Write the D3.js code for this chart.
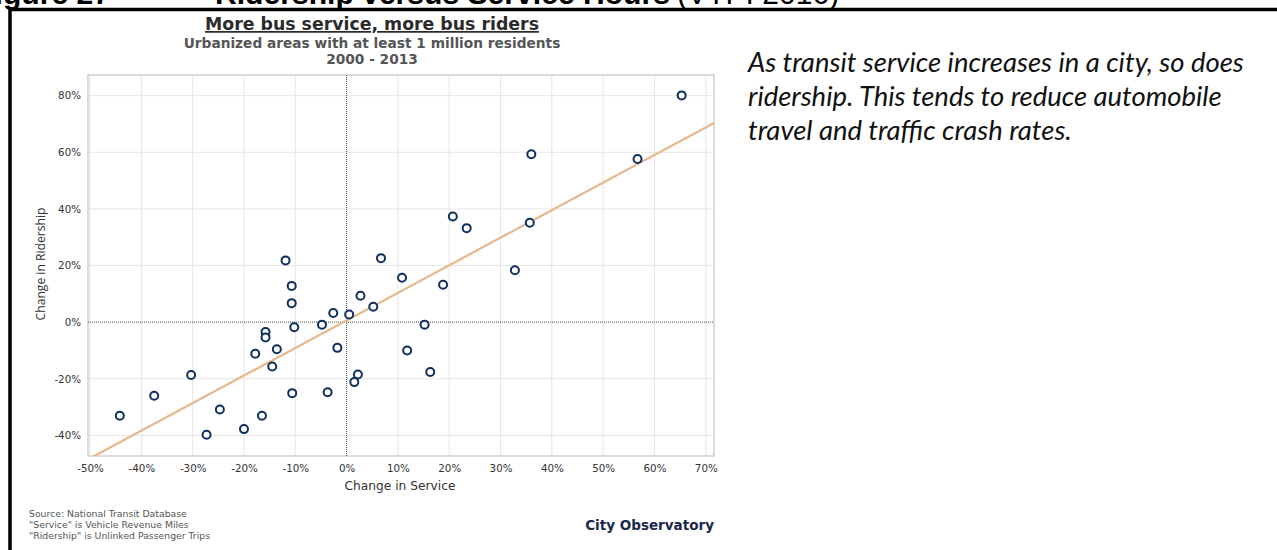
<!DOCTYPE html>
<html>
<head>
<meta charset="utf-8">
<script src="https://cdn.jsdelivr.net/npm/d3@7"></script>
<style>
  html, body { margin: 0; padding: 0; background: #fff; }
  svg { display: block; }
</style>
</head>
<body>
<svg id="chart" width="1277" height="550"></svg>
<script>
// ---------- data ----------
const serviceChange = [
  -44.2, -37.5, -30.3, -27.3, -24.7, -20.0, -16.5, -17.8, -15.8, -15.8,
  -13.6, -14.5, -10.6, -10.2, -4.8, -2.6, -1.8, -3.7, 0.5, 2.2,
  1.5, 5.2, -10.7, -11.9, -10.7, 6.7, 2.7, 10.8, 18.8, 15.2,
  11.8, 16.3, 65.3, 56.7, 36.0, 35.7, 20.7, 23.4, 32.8
];
const ridershipChange = [
  -33.1, -26.0, -18.7, -39.8, -30.9, -37.8, -33.1, -11.2, -3.5, -5.4,
  -9.6, -15.7, -25.1, -1.8, -0.9, 3.2, -9.1, -24.8, 2.7, -18.5,
  -21.2, 5.4, 6.7, 21.8, 12.8, 22.6, 9.3, 15.7, 13.2, -0.9,
  -10.0, -17.6, 80.1, 57.6, 59.3, 35.1, 37.3, 33.2, 18.3
];
const xTicks = [-50, -40, -30, -20, -10, 0, 10, 20, 30, 40, 50, 60, 70];
const yTicks = [-40, -20, 0, 20, 40, 60, 80];
const xDomain = [-50.4, 71.6];
const yDomain = [-47.3, 87.3];
const trendSlope = 0.974;
const trendIntercept = 0.6;

const titleText = "More bus service, more bus riders";
const subtitleLines = ["Urbanized areas with at least 1 million residents", "2000 - 2013"];
const xAxisTitle = "Change in Service";
const yAxisTitle = "Change in Ridership";
const sourceLines = [
  "Source: National Transit Database",
  "\"Service\" is Vehicle Revenue Miles",
  "\"Ridership\" is Unlinked Passenger Trips"
];
const brandText = "City Observatory";
const noteLines = [
  "As transit service increases in a city, so does",
  "ridership. This tends to reduce automobile",
  "travel and traffic crash rates."
];
const headingFigure = "Figure 27";
const headingTitle = "Ridership versus Service Hours";
const headingRef = "(VTPI 2016)";

// ---------- layout ----------
const svg = d3.select("#chart");
const plot = { left: 88, right: 714, top: 75, bottom: 456 };
const x = d3.scaleLinear().domain(xDomain).range([plot.left, plot.right]);
const y = d3.scaleLinear().domain(yDomain).range([plot.bottom, plot.top]);
const pct = d => String(d) + "%";

function fitWidth(sel, target) {
  const w = sel.node().getComputedTextLength();
  const fs = parseFloat(sel.attr("font-size"));
  sel.attr("font-size", (fs * target / w).toFixed(2));
}

// heading (cut off at top, as in the source document crop)
const hFont = "'Liberation Sans', Arial, sans-serif";
const h2 = svg.append("text")
  .attr("x", 215).attr("y", 4)
  .attr("font-family", hFont).attr("font-weight", "bold")
  .attr("font-size", 26).attr("fill", "#000").text(headingTitle);
fitWidth(h2, 455);
svg.append("text")
  .attr("x", 110).attr("y", 4).attr("text-anchor", "end")
  .attr("font-family", hFont).attr("font-weight", "bold")
  .attr("font-size", h2.attr("font-size")).attr("fill", "#000").text(headingFigure);
svg.append("text")
  .attr("x", 677).attr("y", 4)
  .attr("font-family", hFont).attr("font-weight", "normal")
  .attr("font-size", h2.attr("font-size")).attr("fill", "#000").text(headingRef);

// frame
svg.append("path")
  .attr("d", "M10,550 V9.5 H1277")
  .attr("fill", "none").attr("stroke", "#000").attr("stroke-width", 3.5);

// titles
const cx = 372;
const t = svg.append("text")
  .attr("x", cx).attr("y", 30).attr("text-anchor", "middle")
  .attr("font-family", "'DejaVu Sans', Verdana, sans-serif")
  .attr("font-weight", "bold").attr("font-size", 15)
  .attr("fill", "#2b2b2b")
  .attr("text-decoration", "underline")
  .text(titleText);
fitWidth(t, 334);

const st = svg.append("text")
  .attr("x", cx).attr("y", 48).attr("text-anchor", "middle")
  .attr("font-family", "'DejaVu Sans', Verdana, sans-serif")
  .attr("font-weight", "bold").attr("font-size", 11)
  .attr("fill", "#555")
  .text(subtitleLines[0]);
fitWidth(st, 377);
svg.append("text")
  .attr("x", cx).attr("y", 64).attr("text-anchor", "middle")
  .attr("font-family", "'DejaVu Sans', Verdana, sans-serif")
  .attr("font-weight", "bold").attr("font-size", st.attr("font-size"))
  .attr("fill", "#555")
  .text(subtitleLines[1]);

// gridlines
const g = svg.append("g");
g.selectAll(".vg").data(xTicks.filter(d => d !== 0)).join("line")
  .attr("x1", d => x(d)).attr("x2", d => x(d))
  .attr("y1", plot.top).attr("y2", plot.bottom)
  .attr("stroke", "#e6e6e6").attr("stroke-width", 1);
g.selectAll(".hg").data(yTicks.filter(d => d !== 0)).join("line")
  .attr("x1", plot.left).attr("x2", plot.right)
  .attr("y1", d => y(d)).attr("y2", d => y(d))
  .attr("stroke", "#e6e6e6").attr("stroke-width", 1);

// plot border
svg.append("rect")
  .attr("x", plot.left).attr("y", plot.top)
  .attr("width", plot.right - plot.left).attr("height", plot.bottom - plot.top)
  .attr("fill", "none").attr("stroke", "#cfcfcf").attr("stroke-width", 1.5);

// zero lines
svg.append("line")
  .attr("x1", x(0)).attr("x2", x(0)).attr("y1", plot.top).attr("y2", plot.bottom)
  .attr("stroke", "#444").attr("stroke-width", 1).attr("stroke-dasharray", "1,1");
svg.append("line")
  .attr("x1", plot.left).attr("x2", plot.right).attr("y1", y(0)).attr("y2", y(0))
  .attr("stroke", "#444").attr("stroke-width", 1).attr("stroke-dasharray", "1,1");

// axes
const xAxis = d3.axisBottom(x).tickValues(xTicks).tickFormat(pct).tickSize(0).tickPadding(9);
const yAxis = d3.axisLeft(y).tickValues(yTicks).tickFormat(pct).tickSize(0).tickPadding(7);
const xa = svg.append("g").attr("transform", `translate(0,${plot.bottom})`).call(xAxis);
const ya = svg.append("g").attr("transform", `translate(${plot.left},0)`).call(yAxis);
[xa, ya].forEach(a => {
  a.select(".domain").remove();
  a.selectAll("text").attr("font-family", "'DejaVu Sans', Verdana, sans-serif")
    .attr("font-size", 10.3).attr("fill", "#333");
});

// trend line (clipped)
svg.append("clipPath").attr("id", "clip").append("rect")
  .attr("x", plot.left).attr("y", plot.top)
  .attr("width", plot.right - plot.left).attr("height", plot.bottom - plot.top);
const tx = [xDomain[0] - 5, xDomain[1] + 5];
svg.append("line")
  .attr("clip-path", "url(#clip)")
  .attr("x1", x(tx[0])).attr("y1", y(trendSlope * tx[0] + trendIntercept))
  .attr("x2", x(tx[1])).attr("y2", y(trendSlope * tx[1] + trendIntercept))
  .attr("stroke", "#e8b78a").attr("stroke-width", 2.2);

// points
const pts = serviceChange.map((v, i) => ({ sx: v, ry: ridershipChange[i] }));
svg.append("g").selectAll("circle").data(pts).join("circle")
  .attr("cx", d => x(d.sx)).attr("cy", d => y(d.ry)).attr("r", 4)
  .attr("fill", "#fff").attr("stroke", "#0f2f60").attr("stroke-width", 2);

// axis titles
const xt = svg.append("text")
  .attr("x", 400).attr("y", 490).attr("text-anchor", "middle")
  .attr("font-family", "'DejaVu Sans', Verdana, sans-serif")
  .attr("font-size", 11).attr("fill", "#333").text(xAxisTitle);
fitWidth(xt, 111);
const yt = svg.append("text")
  .attr("transform", "translate(45,264) rotate(-90)").attr("text-anchor", "middle")
  .attr("font-family", "'Open Sans', 'DejaVu Sans', sans-serif")
  .attr("font-size", 11).attr("fill", "#333").text(yAxisTitle);
fitWidth(yt, 113);

// source notes
const s0 = svg.append("text")
  .attr("x", 29).attr("y", 517)
  .attr("font-family", "'DejaVu Sans', Verdana, sans-serif")
  .attr("font-size", 8).attr("fill", "#555").text(sourceLines[0]);
fitWidth(s0, 158);
svg.append("g").selectAll("text").data(sourceLines.slice(1)).join("text")
  .attr("x", 29).attr("y", (d, i) => 528 + i * 11)
  .attr("font-family", "'DejaVu Sans', Verdana, sans-serif")
  .attr("font-size", s0.attr("font-size")).attr("fill", "#555").text(d => d);

// brand
const br = svg.append("text")
  .attr("x", 714).attr("y", 530).attr("text-anchor", "end")
  .attr("font-family", "'DejaVu Sans', Verdana, sans-serif")
  .attr("font-weight", "bold").attr("font-size", 11.5).attr("fill", "#1b2a4a")
  .text(brandText);
fitWidth(br, 129);

// note text on the right
const n0 = svg.append("text")
  .attr("x", 748).attr("y", 72)
  .attr("font-family", "Lato, 'Open Sans', sans-serif")
  .attr("font-style", "italic").attr("font-size", 21).attr("fill", "#111")
  .text(noteLines[0]);
fitWidth(n0, 496);
svg.append("g").selectAll("text").data(noteLines.slice(1)).join("text")
  .attr("x", 748).attr("y", (d, i) => 106 + i * 34)
  .attr("font-family", "Lato, 'Open Sans', sans-serif")
  .attr("font-style", "italic").attr("font-size", n0.attr("font-size")).attr("fill", "#111")
  .text(d => d);
</script>
</body>
</html>
